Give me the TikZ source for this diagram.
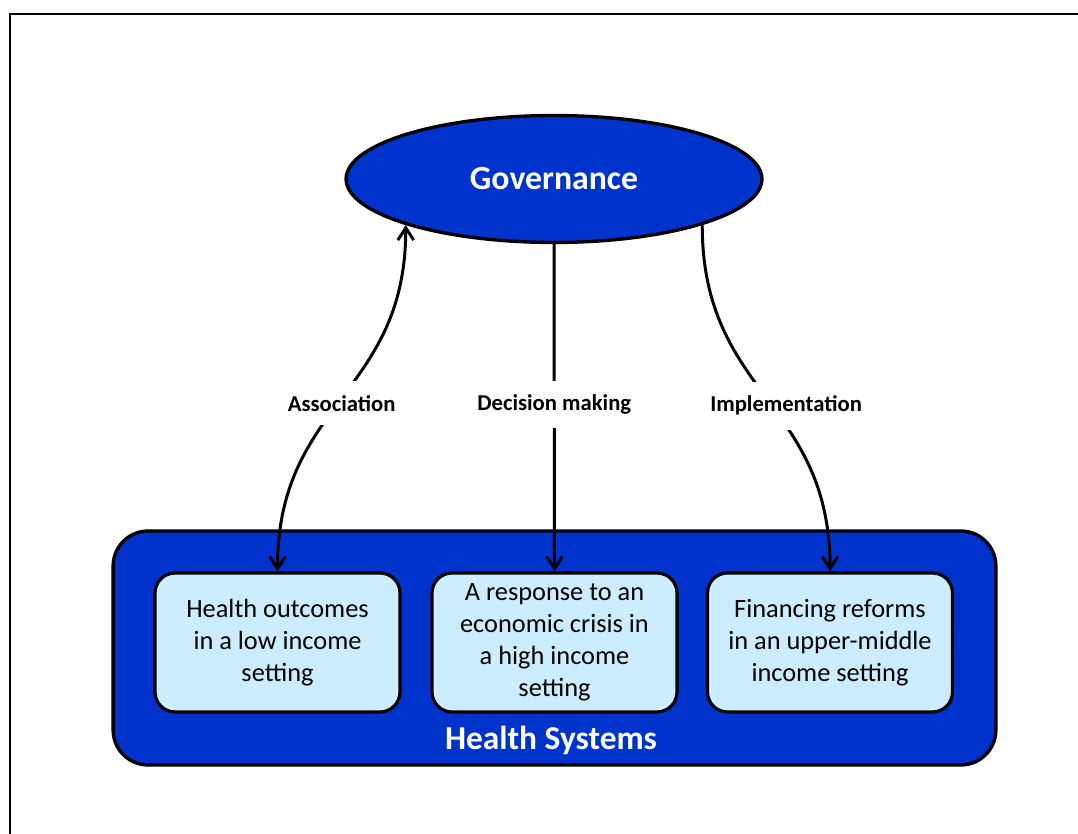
\documentclass[tikz,border=0pt]{standalone}
\usepackage{fontspec}
\setmainfont{Carlito}
\usepackage{xcolor}
\usepackage{tikz}
\usetikzlibrary{shapes.geometric, arrows.meta, positioning}
\definecolor{govblue}{HTML}{0033CC}
\definecolor{boxblue}{HTML}{CCECFF}

\begin{document}
\begin{tikzpicture}[x=0.02cm, y=-0.02cm,
    bigshape/.style={draw, line width=1.9pt, fill=govblue, text=white, font=\fontsize{19.2}{22}\selectfont\bfseries},
    casebox/.style={draw, line width=1.8pt, fill=boxblue, rounded corners=0.4cm, minimum width=4.9cm, minimum height=2.78cm, align=center, font=\fontsize{15}{18.2}\selectfont},
    link/.style={line width=1.7pt, -{Straight Barb[length=7pt, width=9pt, line width=1.7pt]}},
    linkboth/.style={line width=1.7pt, {Straight Barb[length=7pt, width=9pt, line width=1.7pt]}-{Straight Barb[length=7pt, width=9pt, line width=1.7pt]}},
    linklabel/.style={fill=white, inner xsep=2pt, inner ysep=8pt, font=\fontsize{12.9}{15}\selectfont\bfseries}]

\useasboundingbox (0,0) rectangle (1078,834);

% Moldura
\draw[line width=1.2pt] (10,834) -- (10,14) -- (1078,14);

% Governance
\node[bigshape, ellipse, minimum width=8.32cm, minimum height=2.54cm, inner sep=0pt] (gov) at (554,179) {Governance};

% Health Systems
\node[bigshape, rounded corners=0.7cm, minimum width=17.66cm, minimum height=4.68cm] (hs) at (554.5,648) {};
\node[text=white, font=\fontsize{19}{22}\selectfont\bfseries] (hslabel) at (551,740) {Health Systems};

% Casos
\node[casebox] (low) at (277.5,642.5) {Health outcomes\\in a low income\\setting};
\node[casebox] (high) at (554.5,642.5) {A response to an\\economic crisis in\\a high income\\setting};
\node[casebox] (upper) at (830,642.5) {Financing reforms\\in an upper-middle\\income setting};

% Ligações
\draw[linkboth] (low.north) .. controls +(0,-170) and +(0,170) .. node[linklabel, pos=0.5, yshift=-0.1cm] (assoc) {Association} (gov.south west);
\draw[link] (gov.south) -- node[linklabel, pos=0.49] (decis) {Decision making} (high.north);
\draw[link] (gov.south east) .. controls +(0,170) and +(0,-170) .. node[linklabel, pos=0.5, xshift=0.4cm, yshift=-0.15cm] (impl) {Implementation} (upper.north);

\end{tikzpicture}
\end{document}
